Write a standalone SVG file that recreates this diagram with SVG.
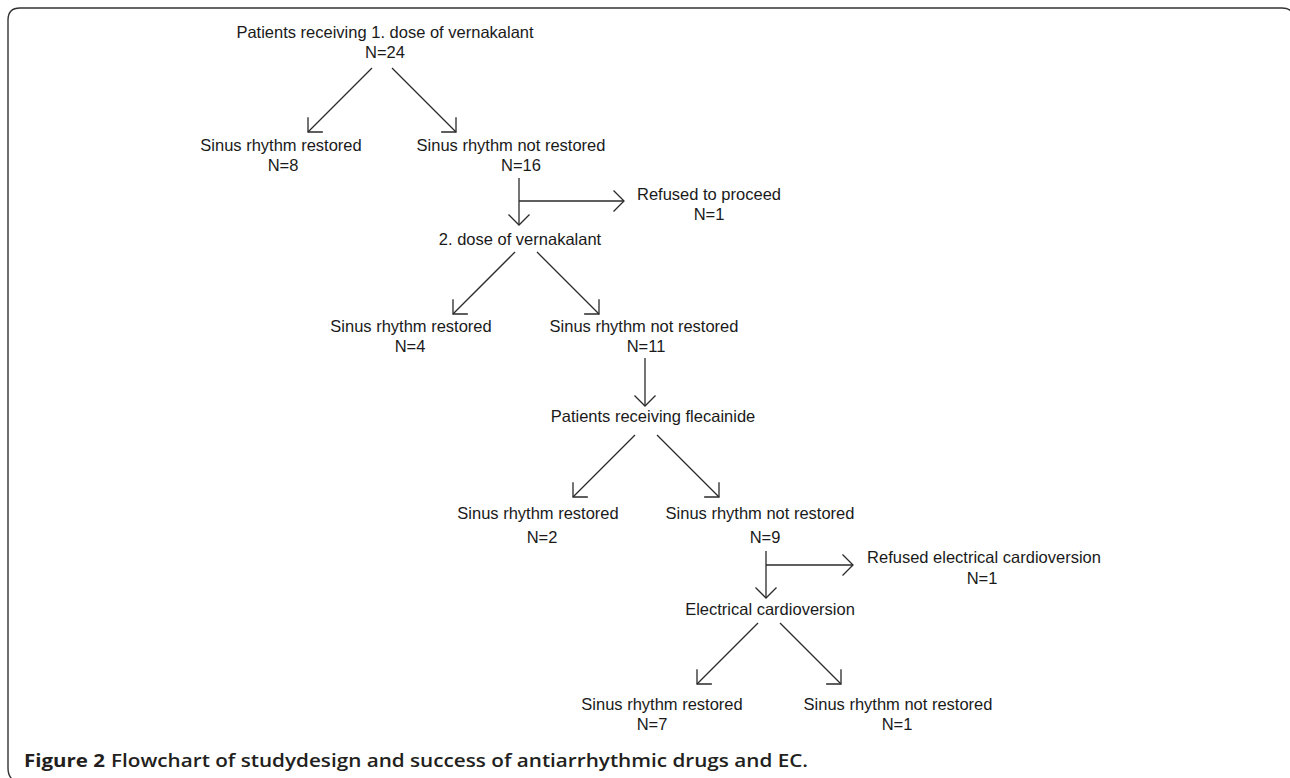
<svg xmlns="http://www.w3.org/2000/svg" width="1290" height="778" viewBox="0 0 1290 778">
<style>
.t{font-family:"Liberation Sans",Arial,sans-serif;font-size:16.5px;fill:#1a1a1a;text-anchor:middle}
.c{stroke:#2a2a2a;stroke-width:1.3;fill:none}
.cap{font-family:"Open Sans","Liberation Sans",Arial,sans-serif;font-size:17.5px;fill:#231f20}
</style>
<defs>
<marker id="ah" markerUnits="userSpaceOnUse" markerWidth="30" markerHeight="30" viewBox="-15 -15 30 30" refX="0" refY="0" orient="auto">
<path d="M -10.5,-10.5 L 0,0 L -10.5,10.5" fill="none" stroke="#2a2a2a" stroke-width="1.3"/>
</marker>
</defs>
<rect width="1290" height="778" fill="#fff"/>
<path d="M 1294,20 Q 1294,8 1282,8 L 20,8 Q 8,8 8,20 L 8,768 Q 8,778 16,782" fill="none" stroke="#333" stroke-width="1.4"/>

<g id="n1"><text class="t" x="385" y="38">Patients receiving 1. dose of vernakalant</text><text class="t" x="385" y="58">N=24</text></g>
<g id="n2"><text class="t" x="281" y="151">Sinus rhythm restored</text><text class="t" x="283" y="171">N=8</text></g>
<g id="n3"><text class="t" x="511" y="151">Sinus rhythm not restored</text><text class="t" x="521" y="171">N=16</text></g>
<g id="n4"><text class="t" x="709" y="200">Refused to proceed</text><text class="t" x="709" y="220">N=1</text></g>
<g id="n5"><text class="t" x="520" y="245">2. dose of vernakalant</text></g>
<g id="n6"><text class="t" x="411" y="332">Sinus rhythm restored</text><text class="t" x="410" y="352">N=4</text></g>
<g id="n7"><text class="t" x="644" y="332">Sinus rhythm not restored</text><text class="t" x="646" y="352">N=11</text></g>
<g id="n8"><text class="t" x="653" y="422">Patients receiving flecainide</text></g>
<g id="n9"><text class="t" x="538" y="519">Sinus rhythm restored</text><text class="t" x="542" y="543">N=2</text></g>
<g id="n10"><text class="t" x="760" y="519">Sinus rhythm not restored</text><text class="t" x="765" y="543">N=9</text></g>
<g id="n11"><text class="t" x="984" y="563">Refused electrical cardioversion</text><text class="t" x="982" y="584">N=1</text></g>
<g id="n12"><text class="t" x="770" y="615">Electrical cardioversion</text></g>
<g id="n13"><text class="t" x="662" y="710">Sinus rhythm restored</text><text class="t" x="652" y="730">N=7</text></g>
<g id="n14"><text class="t" x="898" y="710">Sinus rhythm not restored</text><text class="t" x="897" y="730">N=1</text></g>

<g id="connectors" class="c">
<line x1="372" y1="68" x2="308" y2="132" marker-end="url(#ah)"/>
<line x1="392" y1="68" x2="456" y2="132" marker-end="url(#ah)"/>
<line x1="519" y1="178" x2="519" y2="225" marker-end="url(#ah)"/>
<line x1="519" y1="201" x2="624" y2="201" marker-end="url(#ah)"/>
<line x1="515" y1="252" x2="453" y2="314" marker-end="url(#ah)"/>
<line x1="537" y1="252" x2="599" y2="314" marker-end="url(#ah)"/>
<line x1="645" y1="358" x2="645" y2="406" marker-end="url(#ah)"/>
<line x1="635" y1="435" x2="573" y2="497" marker-end="url(#ah)"/>
<line x1="657" y1="435" x2="719" y2="497" marker-end="url(#ah)"/>
<line x1="766" y1="551" x2="766" y2="598" marker-end="url(#ah)"/>
<line x1="766" y1="565" x2="853" y2="565" marker-end="url(#ah)"/>
<line x1="758" y1="623" x2="697" y2="684" marker-end="url(#ah)"/>
<line x1="780" y1="623" x2="841" y2="684" marker-end="url(#ah)"/>
</g>

<g id="caption">
<text class="cap" x="24" y="767" font-weight="700" textLength="81" lengthAdjust="spacingAndGlyphs">Figure 2</text>
<text class="cap" x="111" y="767" font-weight="600" textLength="697" lengthAdjust="spacingAndGlyphs">Flowchart of studydesign and success of antiarrhythmic drugs and EC.</text>
</g>
</svg>
